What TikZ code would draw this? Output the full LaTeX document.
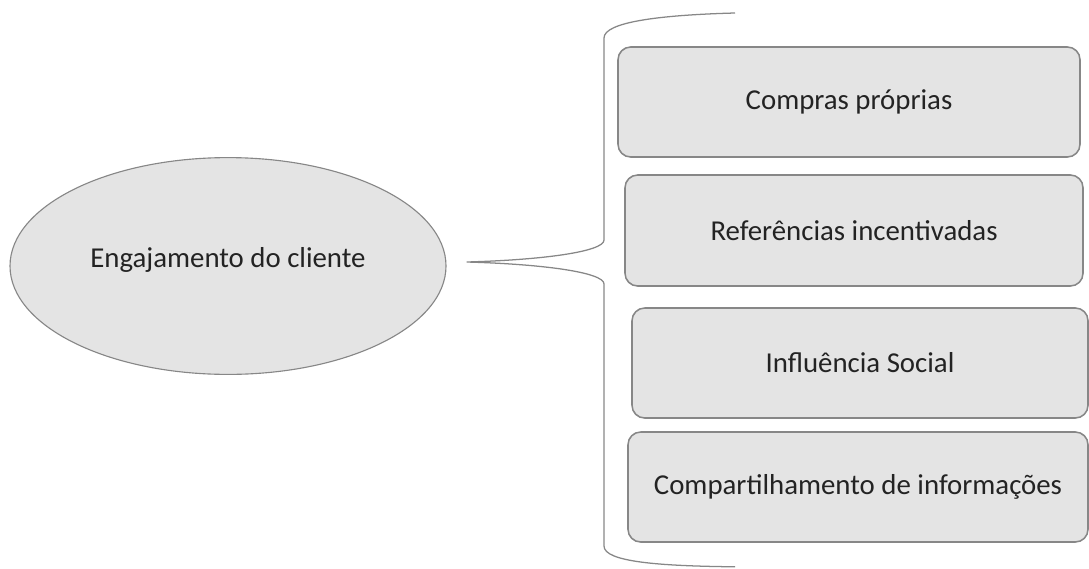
\documentclass[tikz,border=0pt]{standalone}
\usepackage{fontspec}
\setmainfont{Carlito}
\usepackage{tikz}
\usetikzlibrary{positioning, shapes.geometric}
\definecolor{edgegray}{RGB}{135, 135, 135}
\definecolor{fillgray}{RGB}{228, 228, 228}
\definecolor{inkdark}{RGB}{35, 35, 35}
\tikzset{
    blk/.style  ={draw=edgegray, line width=1.1pt, fill=fillgray,
                  minimum width=11.5cm, minimum height=2.75cm,
                  align=center, text=inkdark, rounded corners=9pt,
                  font=\fontsize{20.5}{24}\selectfont},
    ell/.style  ={draw=edgegray, line width=0.8pt, fill=fillgray, ellipse,
                  minimum width=10.9cm, minimum height=5.42cm,
                  text=inkdark, font=\fontsize{20.5}{24}\selectfont},
    brc/.style  ={draw=edgegray, line width=0.9pt}
}

\begin{document}
\begin{tikzpicture}[x=1cm, y=1cm]
  \useasboundingbox (0,0) rectangle (27.225,-14.2);

  \node[ell, text depth=0.45cm] (eng) at (5.7,-6.65) {Engajamento do cliente};

  \node[blk, minimum width=11.55cm] (b1) at (21.225, -2.55)   {Compras próprias};
  \node[blk, minimum width=11.45cm, minimum height=2.775cm] (b2) at (21.35, -5.7625) {Referências incentivadas};
  \node[blk, minimum width=11.4cm]  (b3) at (21.5, -9.075)    {Influência Social};
  \node[blk]                        (b4) at (21.45, -12.175)  {Compartilhamento de informações};

  % brace round the four blocks
  \coordinate[right=0.5cm of eng.east, yshift=0.1cm] (tip);
  \coordinate (top) at (18.375,-0.325);
  \coordinate (bot) at (18.375,-14.17);
  \draw[brc] (top) .. controls (16.5,-0.375) and (15.1,-0.55) .. (15.1,-0.95)
       -- (15.1,-6.0) .. controls (15.1,-6.3) and (13.5,-6.5) .. (tip)
       .. controls (13.5,-6.6) and (15.1,-6.8) .. (15.1,-7.1)
       -- (15.1,-13.65) .. controls (15.1,-14.05) and (16.5,-14.15) .. (bot);
\end{tikzpicture}
\end{document}
